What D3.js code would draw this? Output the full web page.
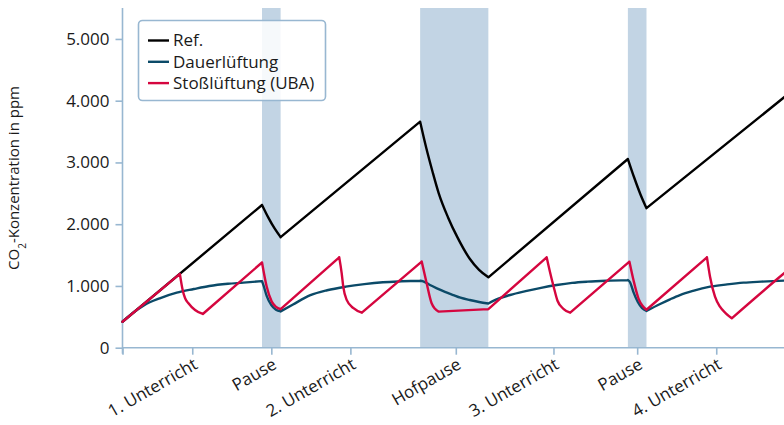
<!DOCTYPE html>
<html>
<head>
<meta charset="utf-8">
<script src="https://cdn.jsdelivr.net/npm/d3@7"></script>
<style>
  body { margin: 0; background: #fff; }
  svg { display: block; font-family: "Open Sans", sans-serif; }
</style>
</head>
<body>
<svg id="canvas" width="784" height="425"></svg>
<script>
// pauses as [start, end] in minutes
const pauseBands = [[45, 51], [96, 118], [163, 169]];

// x axis ticks (minutes) and their labels
const tickMinutes = [0, 22.5, 48, 73.5, 107.5, 139, 166, 191.5];
const tickLabels = ['', '1. Unterricht', 'Pause', '2. Unterricht', 'Hofpause', '3. Unterricht', 'Pause', '4. Unterricht'];

const yTicks = [0, 1000, 2000, 3000, 4000, 5000];

const seriesNames = ['Ref.', 'Dauerlüftung', 'Stoßlüftung (UBA)'];
const seriesColors = ['#000000', '#0b4a68', '#d5063f'];

// each series is a list of pieces [minute, ppm]; corners sit between pieces
const refData = [
  [[0, 420], [45, 2311]],
  [[45, 2311], [47, 2110], [49, 1935], [51, 1790]],
  [[51, 1790], [96, 3660]],
  [[96, 3660], [98, 3230], [100, 2850], [102, 2500], [105, 2110], [108, 1790], [112, 1440], [115, 1260], [118, 1140]],
  [[118, 1140], [163, 3056]],
  [[163, 3056], [165, 2760], [167, 2490], [169, 2260]],
  [[169, 2260], [214, 4080]]
];

const dauerData = [
  [[0, 420], [3, 550], [7, 690], [12, 800], [17.5, 891], [23, 950], [28, 999], [34, 1035], [39, 1053], [45, 1078]],
  [[45, 1078], [45.5, 1005], [46.5, 840], [48, 690], [49.5, 615], [51, 588]],
  [[51, 588], [55, 700], [60.6, 850], [66, 930], [72, 988], [78, 1030], [84, 1060], [90, 1075], [96, 1085]],
  [[96, 1085], [97, 1075], [99, 1020], [101.4, 962], [104, 905], [106.7, 853], [109, 810], [112, 772], [115, 740], [118, 715]],
  [[118, 715], [121, 790], [125, 853], [130, 915], [135, 970], [140, 1015], [145, 1050], [150, 1070], [156, 1085], [163, 1095]],
  [[163, 1095], [163.7, 1060], [164.8, 900], [166.2, 740], [167.6, 640], [169, 595]],
  [[169, 595], [173.4, 708], [176.6, 784], [179.8, 853], [184, 920], [189.5, 988], [195, 1025], [200.3, 1053], [206, 1070], [214, 1088]]
];

const stossData = [
  [[0, 420], [18.5, 1195]],
  [[18.5, 1195], [19.4, 934], [20.2, 800], [21.2, 724], [23.4, 611], [25.9, 546]],
  [[25.9, 546], [45, 1380]],
  [[45, 1380], [46.5, 990], [48.1, 750], [49.5, 660], [51, 625]],
  [[51, 625], [69.9, 1464]],
  [[69.9, 1464], [70.7, 1205], [71.2, 990], [72.3, 775], [74.5, 640], [77.2, 567]],
  [[77.2, 567], [96.5, 1395]],
  [[96.5, 1395], [98.1, 1043], [99.7, 720], [100.8, 630], [101.9, 585]],
  [[101.9, 585], [118, 625]],
  [[118, 625], [136.8, 1464]],
  [[136.8, 1464], [138.5, 1096], [139, 1000], [140.3, 760], [142.2, 630], [144.4, 567]],
  [[144.4, 567], [163.5, 1393]],
  [[163.5, 1393], [164.8, 1096], [166.4, 800], [167.7, 680], [169, 615]],
  [[169, 615], [188.5, 1464]],
  [[188.5, 1464], [189.5, 1150], [191.1, 826], [192.7, 664], [194.5, 560], [196.5, 476]],
  [[196.5, 476], [213.4, 1205], [214, 1230]]
];

const axisColor = '#98b7d1';
const bandColor = '#c2d4e4';

let canvas = d3.select('#canvas');

let x = d3.scaleLinear().domain([0, 214]).range([122.5, 786]);
let y = d3.scaleLinear().domain([0, 5000]).range([347.7, 38.95]);
const yTop = 8;

// pause bands
canvas.append('g')
  .selectAll('rect')
  .data(pauseBands)
  .enter()
  .append('rect')
  .attr('x', d => x(d[0]))
  .attr('y', yTop)
  .attr('width', d => x(d[1]) - x(d[0]))
  .attr('height', y(0) - yTop)
  .attr('fill', bandColor);

// y axis
let yAxis = canvas.append('g')
  .attr('transform', `translate(${x(0)},0)`)
  .call(d3.axisLeft(y).tickValues(yTicks).tickSize(7).tickPadding(6)
    .tickFormat(d => d3.format(',')(d).replace(/,/g, '.')));
yAxis.select('.domain').attr('d', `M0,${yTop}V${y(0) + 6}`);

// x axis
let xAxis = canvas.append('g')
  .attr('transform', `translate(0,${y(0)})`)
  .call(d3.axisBottom(x).tickValues(tickMinutes).tickSize(7)
    .tickFormat((d, i) => tickLabels[i]));
xAxis.select('.domain').attr('d', `M${x(0)},0H784`);
xAxis.selectAll('text')
  .attr('text-anchor', 'end')
  .attr('dy', 0)
  .attr('y', 0)
  .attr('transform', 'translate(6,20) rotate(-30)');

canvas.selectAll('.domain, .tick line')
  .attr('stroke', axisColor)
  .attr('stroke-width', 1.6);
canvas.selectAll('.tick text')
  .attr('fill', '#1a1a1a')
  .style('font-size', '17px')
  .style('font-family', '"Open Sans", sans-serif');

// y axis title
canvas.append('text')
  .attr('transform', 'translate(19,178) rotate(-90)')
  .attr('text-anchor', 'middle')
  .style('font-size', '15px')
  .attr('fill', '#1a1a1a')
  .html('CO<tspan baseline-shift="sub" font-size="10px">2</tspan>-Konzentration in ppm');

// lines
let line = d3.line()
  .x(d => x(d[0]))
  .y(d => y(d[1]))
  .curve(d3.curveMonotoneX);

[refData, dauerData, stossData].forEach((pieces, i) => {
  canvas.append('path')
    .attr('d', pieces.map(p => line(p)).join(''))
    .attr('fill', 'none')
    .attr('stroke', seriesColors[i])
    .attr('stroke-width', 2.4)
    .attr('stroke-linejoin', 'round')
    .attr('stroke-linecap', 'round');
});

// legend
let legend = canvas.append('g');
legend.append('rect')
  .attr('x', 138.5)
  .attr('y', 20.5)
  .attr('width', 187)
  .attr('height', 80)
  .attr('rx', 4)
  .attr('fill', '#ffffff')
  .attr('fill-opacity', 0.85)
  .attr('stroke', axisColor)
  .attr('stroke-width', 1.6);

let items = legend.selectAll('g.item')
  .data(seriesNames)
  .enter()
  .append('g')
  .attr('transform', (d, i) => `translate(148,${40.5 + i * 21.3})`);
items.append('line')
  .attr('x1', 0).attr('x2', 21)
  .attr('stroke', (d, i) => seriesColors[i])
  .attr('stroke-width', 2.4);
items.append('text')
  .attr('x', 25)
  .attr('dy', '0.35em')
  .style('font-size', '17px')
  .attr('fill', '#1a1a1a')
  .text(d => d);
</script>
</body>
</html>
